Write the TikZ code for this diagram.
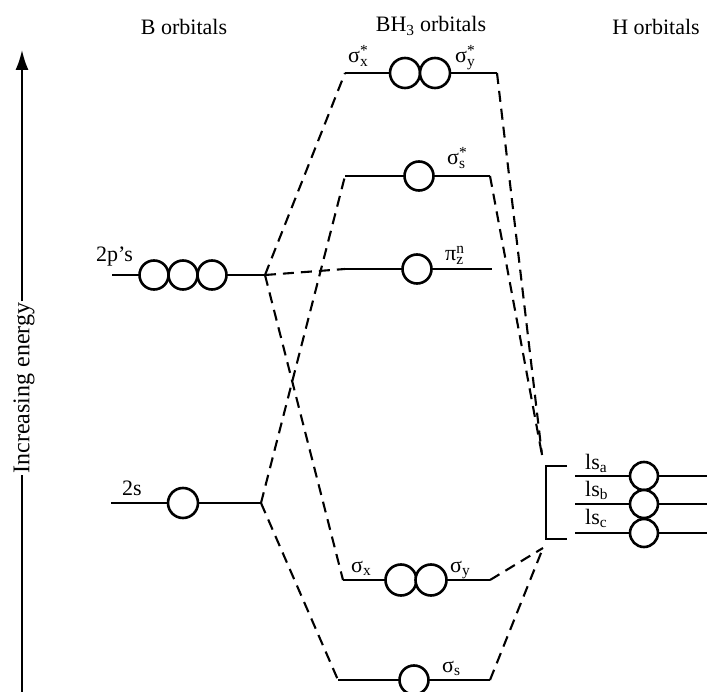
\documentclass[tikz,border=0pt]{standalone}
\usepackage{fontspec}
\setmainfont{Liberation Serif}
\usetikzlibrary{arrows.meta}
\newcommand\orbss[2]{\rlap{\textsubscript{#1}}\textsuperscript{#2}}
\begin{document}
\begin{tikzpicture}[x=1pt,y=-1pt,
  level/.style={line width=2.8pt},
  orb/.style={circle,draw,line width=2.6pt,minimum size=29pt,inner sep=0pt,fill=white},
  conn/.style={line width=2.1pt,dash pattern=on 11pt off 7pt},
  lbl/.style={font=\fontsize{22}{26}\selectfont,inner sep=0pt,anchor=base west},
  ttl/.style={font=\fontsize{22}{26}\selectfont,inner sep=0pt,anchor=base}]
\useasboundingbox (0,0) rectangle (707,692);

% titles
\node[ttl] (tB) at (184,35) {B orbitals};
\node[ttl] (tBH) at (431,32) {BH\textsubscript{3} orbitals};
\node[ttl] (tH) at (656,35) {H orbitals};

% energy axis
\coordinate (ax0) at (22,692);
\coordinate (ax1) at (22,50);
\node[font=\fontsize{24}{28}\selectfont,inner sep=0pt,rotate=90,fill=white,inner xsep=1pt] (axl) at (24,388) {Increasing energy};
\draw[line width=1.8pt] (ax0) -- (axl.west -| ax0);
\draw[line width=1.8pt,-{Latex[length=20pt,width=13pt]}] (axl.east -| ax0) -- (ax1);

% B levels
\coordinate (p2L) at (112,275); \coordinate (p2R) at (265,275);
\coordinate (s2L) at (111,503); \coordinate (s2R) at (261,503);
\draw[level] (p2L) -- (p2R);
\draw[level] (s2L) -- (s2R);
\node[orb] (p2a) at (154,275) {};
\node[orb] (p2b) at (183,275) {};
\node[orb] (p2c) at (212,275) {};
\node[orb,minimum size=30pt] (s2a) at (183,503) {};
\node[lbl] (p2t) at (96,262) {2p’s};
\node[lbl] (s2t) at (122,495) {2s};

% BH3 levels
\coordinate (xsL) at (345,73);  \coordinate (xsR) at (497,73);
\coordinate (ssL) at (345,176); \coordinate (ssR) at (490,176);
\coordinate (pzL) at (345,269); \coordinate (pzR) at (492,269);
\coordinate (xyL) at (343,580); \coordinate (xyR) at (490,580);
\coordinate (sL) at (338,680);  \coordinate (sR) at (490,680);
\draw[level] (xsL) -- (xsR);
\draw[level] (ssL) -- (ssR);
\draw[level] (pzL) -- (pzR);
\draw[level] (xyL) -- (xyR);
\draw[level] (sL) -- (sR);
\node[orb,minimum size=30pt] (xs1) at (405,73) {};
\node[orb,minimum size=30pt] (xs2) at (435,73) {};
\node[orb] (ss1) at (419,176) {};
\node[orb] (pz1) at (417,269) {};
\node[orb,minimum size=31pt] (xy1) at (401,580) {};
\node[orb,minimum size=31pt] (xy2) at (431,580) {};
\node[orb] (s1) at (414,680) {};
\node[lbl] (xsl) at (348,63) {σ\orbss{x}{*}};
\node[lbl] (ysl) at (455,63) {σ\orbss{y}{*}};
\node[lbl] (ssl) at (447,165) {σ\orbss{s}{*}};
\node[lbl] (pzl) at (445,261) {π\orbss{z}{n}};
\node[lbl] (xl) at (351,572) {σ\textsubscript{x}};
\node[lbl] (yl) at (450,572) {σ\textsubscript{y}};
\node[lbl] (sl) at (442,672) {σ\textsubscript{s}};

% H levels
\coordinate (haL) at (575,476); \coordinate (haR) at (707,476);
\coordinate (hbL) at (575,504); \coordinate (hbR) at (707,504);
\coordinate (hcL) at (575,533); \coordinate (hcR) at (707,533);
\draw[level] (haL) -- (haR);
\draw[level] (hbL) -- (hbR);
\draw[level] (hcL) -- (hcR);
\node[orb,minimum size=28pt] (ha) at (644,476) {};
\node[orb,minimum size=28pt] (hb) at (644,504) {};
\node[orb,minimum size=28pt] (hc) at (644,533) {};
\node[lbl] (hal) at (585,469) {ls\textsubscript{a}};
\node[lbl] (hbl) at (585,496) {ls\textsubscript{b}};
\node[lbl] (hcl) at (585,524) {ls\textsubscript{c}};
% bracket
\coordinate (brT) at (546,466); \coordinate (brB) at (546,539);
\draw[line width=2.4pt] (567,466) -- (brT) -- (brB) -- (567,539);
\coordinate (hTop) at (542,455);
\coordinate (hBot) at (543,548);

% correlation lines
\draw[conn] (p2R) -- (xsL);
\draw[conn] (p2R) -- (pzL);
\draw[conn] (p2R) -- (xyL);
\draw[conn] (s2R) -- (ssL);
\draw[conn] (s2R) -- (sL);
\draw[conn] (xsR) -- (hTop);
\draw[conn] (ssR) -- (hTop);
\draw[conn] (xyR) -- (hBot);
\draw[conn] (sR) -- (hBot);
\end{tikzpicture}
\end{document}
